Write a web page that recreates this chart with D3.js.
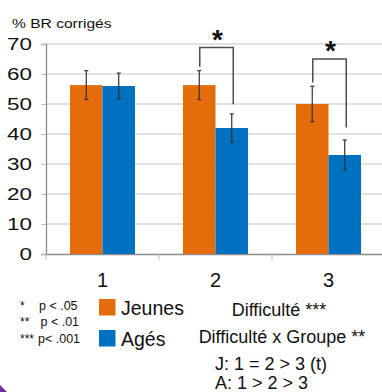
<!DOCTYPE html>
<html><head><meta charset="utf-8">
<script src="https://cdn.jsdelivr.net/npm/d3@7"></script>
<style>body{margin:0;background:#fff}svg{display:block}text{font-family:"Liberation Sans",Arial,sans-serif;fill:#111}</style>
</head><body><svg id="c" width="382" height="392"></svg>
<script>
const categories = ["1","2","3"];
const groups = ["Jeunes","Agés"];
const jeunes = [56.3, 56.3, 50];
const ages = [56, 42, 33];
const jeunesErr = [4.8, 4.8, 5.9];
const agesErr = [4.3, 4.7, 5.0];
const yTicks = [0,10,20,30,40,50,60,70];
const colors = ["#E46C0A","#0070C0"];
// significance brackets: category, top value, left end value, right end value
const sigCats = ["2","3"];
const sigTop = [68.8, 65];
const sigLeft = [62.4, 57.2];
const sigRight = [49.9, 42.2];
const pLegend = [["*","p < .05"],["**","p < .01"],["***","p< .001"]];
const notes = ["Difficulté ***","Difficulté x Groupe **"];
const posthoc = ["J: 1 = 2 > 3 (t)","A: 1 > 2 > 3"];

const svg = d3.select("#c");
const y = d3.scaleLinear().domain([0,70]).range([254,44]);
const x0 = d3.scaleBand().domain(categories).range([46,385]).paddingInner(0.425).paddingOuter(0.2125);
const x1 = d3.scaleBand().domain(groups).range([0,x0.bandwidth()]);

// gridlines
svg.append("g").selectAll("line").data(yTicks.filter(d=>d>0)).join("line")
  .attr("x1",46).attr("x2",385).attr("y1",d=>y(d)).attr("y2",d=>y(d))
  .attr("stroke","#d9d9d9").attr("stroke-width",1.3);

// y axis
const ya = svg.append("g").attr("transform","translate(46,0)")
  .call(d3.axisLeft(y).tickValues(yTicks).tickSize(5).tickPadding(9));
ya.select(".domain").attr("stroke","#8c8c8c").attr("stroke-width",1.3);
ya.selectAll(".tick line").attr("stroke","#bfbfbf");
ya.selectAll(".tick text").style("font-size","16px").attr("fill","#111")
  .each(function(){const t=d3.select(this);const xx=+t.attr("x");t.attr("transform",`translate(${xx},0) scale(1.4,1) translate(${-xx},0)`);});

// x axis
const xa = svg.append("g").attr("transform","translate(0,254)")
  .call(d3.axisBottom(x0).tickSize(0).tickPadding(19));
xa.select(".domain").attr("stroke","#8c8c8c").attr("stroke-width",1.3);
xa.selectAll(".tick text").style("font-size","20px").attr("fill","#111");
// category boundary ticks
const bounds = [0,1,2].map(i=>x0(categories[i]) - x0.step()*0.2125);
svg.append("g").selectAll("line").data(bounds).join("line")
  .attr("x1",d=>d).attr("x2",d=>d).attr("y1",254).attr("y2",260)
  .attr("stroke","#bfbfbf");

// bars
const rows = categories.map((c,i)=>({c, vals:[{g:"Jeunes",v:jeunes[i],e:jeunesErr[i]},{g:"Agés",v:ages[i],e:agesErr[i]}]}));
const gg = svg.append("g").selectAll("g").data(rows).join("g")
  .attr("transform",d=>`translate(${x0(d.c)},0)`);
gg.selectAll("rect").data(d=>d.vals).join("rect")
  .attr("x",d=>x1(d.g)).attr("width",x1.bandwidth())
  .attr("y",d=>y(d.v)).attr("height",d=>y(0)-y(d.v))
  .attr("fill",(d,i)=>colors[i]);
// error bars
const eb = gg.selectAll("g.eb").data(d=>d.vals).join("g").attr("class","eb");
eb.append("line").attr("x1",d=>x1(d.g)+x1.bandwidth()/2).attr("x2",d=>x1(d.g)+x1.bandwidth()/2)
  .attr("y1",d=>y(d.v+d.e)).attr("y2",d=>y(d.v-d.e)).attr("stroke","#333").attr("stroke-width",1.2);
[1,-1].forEach(s=>{
  eb.append("line").attr("x1",d=>x1(d.g)+x1.bandwidth()/2-2).attr("x2",d=>x1(d.g)+x1.bandwidth()/2+2)
    .attr("y1",d=>y(d.v+s*d.e)).attr("y2",d=>y(d.v+s*d.e)).attr("stroke","#333").attr("stroke-width",1.2);
});

// significance brackets
sigCats.forEach((c,i)=>{
  const xl = x0(c)+x1("Jeunes")+x1.bandwidth()/2+0.5;
  const xr = x0(c)+x1("Agés")+x1.bandwidth()/2+1.5;
  svg.append("path").attr("d",`M${xl},${y(sigLeft[i])}V${y(sigTop[i])}H${xr}V${y(sigRight[i])}`)
    .attr("fill","none").attr("stroke","#505050").attr("stroke-width",1.5);
  svg.append("text").attr("x",(xl+xr)/2+1).attr("y",y(sigTop[i])+1)
    .attr("text-anchor","middle").style("font-size","28px").style("font-weight","bold").text("*");
});

// y title
svg.append("text").attr("x",12).attr("y",28).style("font-size","13px")
  .attr("transform","translate(12,0) scale(1.2,1) translate(-12,0)").text("% BR corrigés");

// p legend
const pl = svg.append("g");
const pY = [310, 325.7, 342.7];
pLegend.forEach((p,i)=>{
  pl.append("text").attr("x",20).attr("y",pY[i]).style("font-size","12px").text(p[0]);
  pl.append("text").attr("x",[39,40.5,38][i]).attr("y",pY[i]).style("font-size","12.5px").text(p[1]);
});

// series legend
groups.forEach((g,i)=>{
  svg.append("rect").attr("x",99).attr("y",299+i*31).attr("width",16.5).attr("height",16.5).attr("fill",colors[i]);
  svg.append("text").attr("x",121).attr("y",314.5+i*31).style("font-size","19.5px").text(g);
});

// notes
notes.forEach((n,i)=>{
  svg.append("text").attr("x",[279,282][i]).attr("y",[316,343][i]).attr("text-anchor","middle").style("font-size","18px").text(n);
});
posthoc.forEach((n,i)=>{
  svg.append("text").attr("x",215).attr("y",370+i*19).style("font-size","18px").text(n);
});

// purple corner
svg.append("path").attr("d","M0,385L7,392L0,392Z").attr("fill","#7030A0");
</script></body></html>
